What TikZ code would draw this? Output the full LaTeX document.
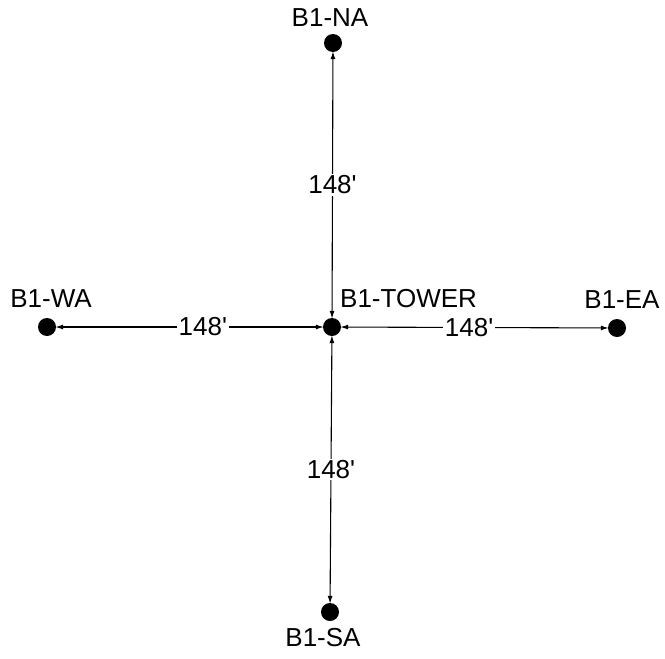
\documentclass[tikz,border=0pt]{standalone}
\usepackage{fontspec}
\setmainfont{Liberation Sans}
\usetikzlibrary{arrows.meta}

\tikzset{
  station/.style={circle, fill=black, inner sep=0pt, minimum size=18pt},
  dimline/.style={line width=1.1pt, {Latex[length=8pt,width=5pt]}-{Latex[length=8pt,width=5pt]}, shorten <=-1pt, shorten >=-1pt},
  dimlabel/.style={fill=white, inner sep=1.5pt},
  every node/.style={font=\fontsize{26}{30}\selectfont}
}
\newcommand{\dist}{148\textquotesingle}

\begin{document}
\begin{tikzpicture}[x=1pt, y=-1pt]
\useasboundingbox (0,0) rectangle (665,659);

% Stations
\node[station] (tower) at (332,327) {};
\node[station] (na) at (333,43) {};
\node[station] (sa) at (330,612) {};
\node[station] (wa) at (47,327) {};
\node[station] (ea) at (617,328) {};

% Station names
\node[anchor=west, inner sep=0pt] (towerlbl) at (340,299) {B1-TOWER};
\node (nalbl) at (330,18) {B1-NA};
\node (salbl) at (323,638) {B1-SA};
\node (walbl) at (51,299) {B1-WA};
\node (ealbl) at (622,300) {B1-EA};

% Distances
\draw[dimline] (na) -- node[dimlabel, pos=0.5] {\dist} (tower);
\draw[dimline] (tower) -- node[dimlabel, pos=0.5] {\dist} (sa);
\draw[dimline] (wa) -- node[dimlabel, pos=0.55] {\dist} (tower);
\draw[dimline] (tower) -- node[dimlabel, pos=0.48] {\dist} (ea);
\end{tikzpicture}
\end{document}
